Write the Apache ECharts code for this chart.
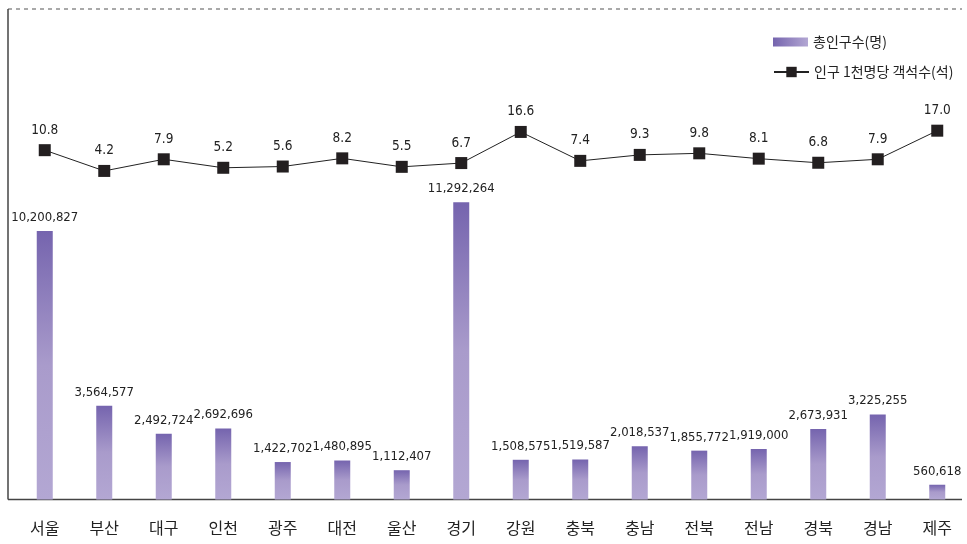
<!DOCTYPE html>
<html>
<head>
<meta charset="utf-8">
<script src="https://cdn.jsdelivr.net/npm/echarts@6/dist/echarts.min.js"></script>
<style>
  html, body { margin: 0; padding: 0; background: #fff; }
  #main { width: 967px; height: 544px; }
</style>
</head>
<body>
<div id="main"></div>
<script>
// 지역별 인구수 / 인구 1천명당 객석수
const regions = ['서울', '부산', '대구', '인천', '광주', '대전', '울산', '경기', '강원', '충북', '충남', '전북', '전남', '경북', '경남', '제주'];
const population = [10200827, 3564577, 2492724, 2692696, 1422702, 1480895, 1112407, 11292264, 1508575, 1519587, 2018537, 1855772, 1919000, 2673931, 3225255, 560618];
const seatsPer1000 = [10.8, 4.2, 7.9, 5.2, 5.6, 8.2, 5.5, 6.7, 16.6, 7.4, 9.3, 9.8, 8.1, 6.8, 7.9, 17.0];

const numFont = '"Liberation Sans Narrow", "DejaVu Sans Condensed", sans-serif';
const krFont = '"Noto Sans CJK KR", "Noto Sans", sans-serif';

const chart = echarts.init(document.getElementById('main'), null, { renderer: 'canvas' });

const barGradient = new echarts.graphic.LinearGradient(0, 0, 0, 1, [
  { offset: 0, color: '#7564ae' },
  { offset: 0.5, color: '#a99bcb' },
  { offset: 1, color: '#b3a7d3' }
]);
const legendGradient = new echarts.graphic.LinearGradient(0, 0, 1, 0, [
  { offset: 0, color: '#7564ae' },
  { offset: 1, color: '#b3a7d3' }
]);

const legendText = { fontFamily: krFont, fontSize: 14, color: '#222' };

chart.setOption({
  animation: false,
  backgroundColor: '#fff',
  // 외곽선 (점선 상단, 좌측/하단 축선)
  graphic: [
    { type: 'line', shape: { x1: 8, y1: 9, x2: 962, y2: 9 }, style: { stroke: '#555', lineWidth: 1, lineDash: [4, 4] } },
    { type: 'line', shape: { x1: 8, y1: 9, x2: 8, y2: 499.5 }, style: { stroke: '#444', lineWidth: 1.5 } },
    { type: 'line', shape: { x1: 8, y1: 499.5, x2: 962, y2: 499.5 }, style: { stroke: '#444', lineWidth: 1.5 } }
  ],
  legend: [
    {
      left: 768,
      top: 30,
      itemWidth: 35,
      itemHeight: 9,
      textStyle: legendText,
      data: [{ name: '총인구수(명)', icon: 'rect', itemStyle: { color: legendGradient } }]
    },
    {
      left: 768,
      top: 60,
      itemWidth: 35,
      itemHeight: 13,
      textStyle: legendText,
      data: [{ name: '인구 1천명당 객석수(석)' }]
    }
  ],
  grid: { left: 15, top: 9, width: 955, height: 490.5 },
  xAxis: {
    type: 'category',
    data: regions,
    axisLine: { show: false },
    axisTick: { show: false },
    axisLabel: { fontFamily: krFont, fontSize: 16, color: '#222', margin: 20 }
  },
  yAxis: [
    { type: 'value', min: 0, max: 18630000, show: false, splitLine: { show: false } },
    { type: 'value', min: -100.3, max: 55.7, show: false, splitLine: { show: false } }
  ],
  series: [
    {
      name: '총인구수(명)',
      type: 'bar',
      yAxisIndex: 0,
      barWidth: 16,
      data: population,
      itemStyle: { color: barGradient },
      label: {
        show: true,
        position: 'top',
        distance: 7,
        fontFamily: numFont,
        fontSize: 13,
        color: '#222',
        formatter: p => p.value.toLocaleString('en-US')
      }
    },
    {
      name: '인구 1천명당 객석수(석)',
      type: 'line',
      yAxisIndex: 1,
      data: seatsPer1000,
      symbol: 'rect',
      symbolSize: 12,
      lineStyle: { color: '#222', width: 1 },
      itemStyle: { color: '#231f20' },
      label: {
        show: true,
        position: 'top',
        distance: 7,
        fontFamily: numFont,
        fontSize: 13.5,
        color: '#222',
        formatter: p => p.value.toFixed(1)
      }
    }
  ]
});
</script>
</body>
</html>
